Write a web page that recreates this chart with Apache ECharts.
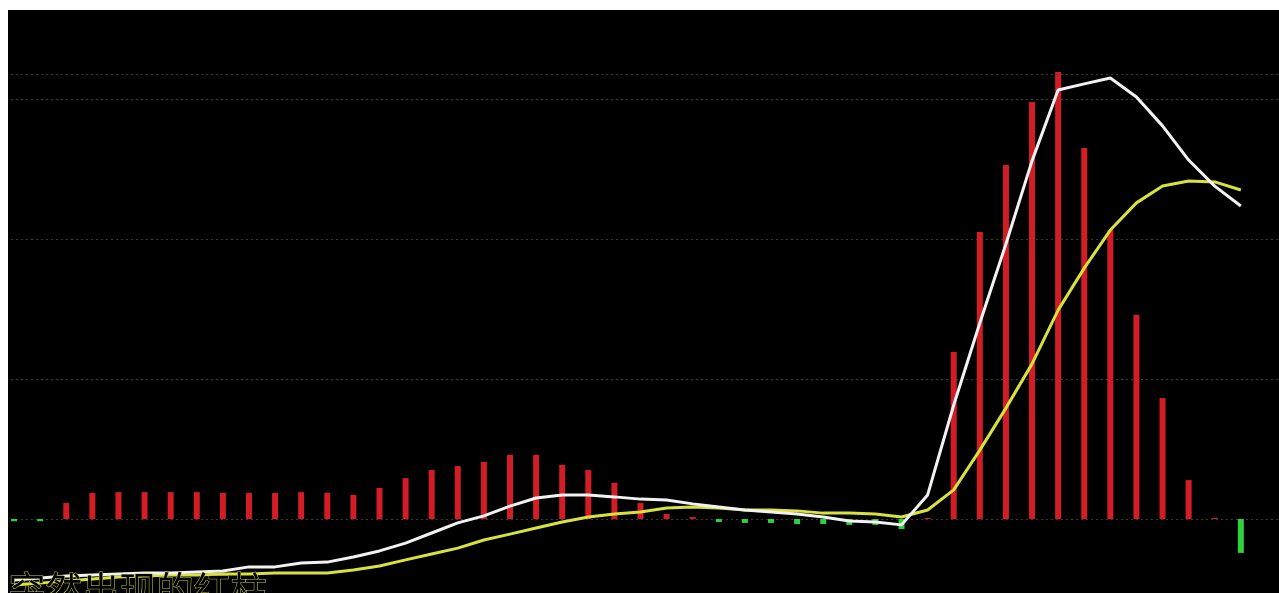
<!DOCTYPE html>
<html>
<head>
<meta charset="utf-8">
<script src="https://cdn.jsdelivr.net/npm/echarts@6/dist/echarts.min.js"></script>
<style>
  html, body { margin: 0; padding: 0; background: #ffffff; width: 1279px; height: 593px; overflow: hidden; }
  #frame { position: absolute; left: 8px; top: 10px; width: 1271px; height: 583px; overflow: hidden; background: #000000; }
  #chart { position: absolute; left: -7px; top: -51px; width: 1279px; height: 700px; }
</style>
</head>
<body>
<div id="frame"><div id="chart"></div></div>
<script>
// ---- data ----
const categories = ['1','2','3','4','5','6','7','8','9','10','11','12','13','14','15','16','17','18','19','20','21','22','23','24','25','26','27','28','29','30','31','32','33','34','35','36','37','38','39','40','41','42','43','44','45','46','47','48','49'];

// MACD histogram
const macdBars = [-0.008,-0.008,0.057,0.093,0.096,0.096,0.096,0.096,0.093,0.093,
  0.093,0.096,0.093,0.086,0.111,0.146,0.175,0.189,0.204,0.229,
  0.229,0.193,0.175,0.129,0.057,0.018,0.007,-0.011,-0.014,-0.014,
  -0.018,-0.018,-0.021,-0.021,-0.036,0.004,0.596,1.025,1.264,1.489,
  1.596,1.325,1.032,0.729,0.432,0.139,0.004,-0.121];

// DIF (white)
const difLine = [-0.218,-0.211,-0.204,-0.200,-0.196,-0.193,-0.193,-0.189,-0.186,-0.171,
  -0.171,-0.157,-0.154,-0.136,-0.114,-0.086,-0.050,-0.014,0.011,0.046,
  0.075,0.086,0.086,0.079,0.071,0.068,0.054,0.043,0.032,0.025,
  0.018,0.007,-0.007,-0.011,-0.021,0.086,0.407,0.700,0.982,1.279,
  1.532,1.554,1.575,1.507,1.404,1.282,1.189,1.118];

// DEA (yellow)
const deaLine = [-0.236,-0.229,-0.221,-0.214,-0.207,-0.204,-0.200,-0.200,-0.196,-0.196,
  -0.193,-0.193,-0.193,-0.182,-0.168,-0.146,-0.125,-0.104,-0.075,-0.054,
  -0.032,-0.011,0.007,0.018,0.025,0.039,0.043,0.039,0.032,0.032,
  0.029,0.021,0.021,0.018,0.007,0.032,0.104,0.246,0.396,0.554,
  0.746,0.896,1.032,1.129,1.189,1.207,1.204,1.175];

const extraLevels = [1.593];
const caption = '突然出现的红柱';

// ---- chart ----
const chart = echarts.init(document.getElementById('chart'));
const gridDots = { color: '#3a3a3a', type: [2, 3], width: 1 };
chart.setOption({
  backgroundColor: '#000000',
  animation: false,
  grid: { left: 0, right: 0, top: 0, bottom: 0 },
  xAxis: {
    type: 'category', data: categories, boundaryGap: true,
    axisLine: { show: false }, axisTick: { show: false }, axisLabel: { show: false },
    splitLine: { show: false }
  },
  yAxis: {
    type: 'value', min: -0.5, max: 2.0, interval: 0.5,
    axisLine: { show: false }, axisTick: { show: false }, axisLabel: { show: false },
    splitLine: { show: true, lineStyle: gridDots }
  },
  graphic: [{
    type: 'text', left: 7, top: 612, z: 100,
    style: {
      text: caption,
      font: '37px "Noto Sans CJK SC"',
      fill: '#000000',
      stroke: '#c8c850',
      lineWidth: 1
    }
  }],
  series: [
    {
      type: 'bar', data: macdBars, barWidth: 6,
      itemStyle: { color: function (p) { return p.value >= 0 ? '#d21c26' : '#2fd03a'; } },
      markLine: {
        silent: true, symbol: 'none', label: { show: false },
        lineStyle: gridDots,
        data: extraLevels.map(v => ({ yAxis: v }))
      },
      z: 2
    },
    {
      type: 'line', data: difLine, symbol: 'none', smooth: false,
      lineStyle: { color: '#f2f2f2', width: 3 }, z: 4
    },
    {
      type: 'line', data: deaLine, symbol: 'none', smooth: false,
      lineStyle: { color: '#d9e23c', width: 3 }, z: 3
    }
  ]
});
</script>
</body>
</html>
